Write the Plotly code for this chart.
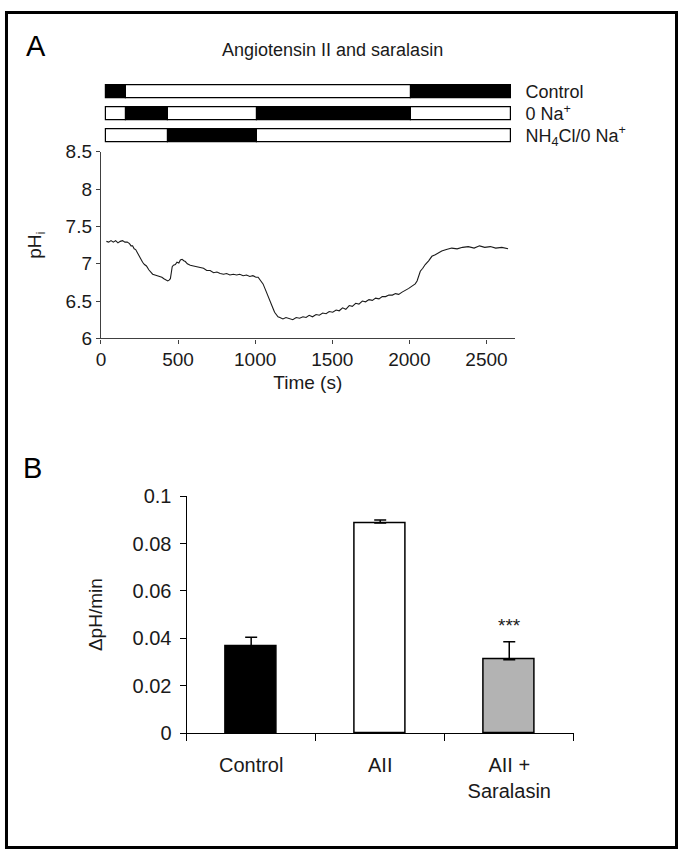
import plotly.graph_objects as go

# ---------------- Panel A data ----------------
time_s = [35, 50, 65, 80, 95, 110, 125, 140, 155, 170, 185, 195, 205, 215, 225, 235, 245, 257,
          270, 282, 295, 310, 322, 335, 350, 365, 380, 395, 408, 420, 433, 442, 450, 456, 462,
          470, 482, 493, 505, 515, 526, 537, 547, 560, 579, 600, 622, 644, 665, 686, 708, 730,
          752, 773, 795, 815, 836, 858, 880, 900, 922, 944, 965, 985, 1005, 1019, 1035, 1051,
          1067, 1083, 1095, 1105, 1116, 1126, 1137, 1148, 1160, 1180, 1200, 1222, 1244, 1266,
          1288, 1310, 1330, 1350, 1372, 1395, 1416, 1438, 1460, 1480, 1503, 1525, 1545, 1567,
          1588, 1610, 1630, 1652, 1673, 1695, 1716, 1738, 1760, 1781, 1803, 1824, 1846, 1867,
          1890, 1910, 1931, 1953, 1975, 1996, 2017, 2038, 2050, 2060, 2071, 2087, 2103, 2125,
          2146, 2168, 2190, 2210, 2240, 2275, 2310, 2345, 2382, 2420, 2455, 2489, 2525, 2560,
          2600, 2640]
ph_i = [7.30, 7.29, 7.31, 7.29, 7.31, 7.28, 7.30, 7.31, 7.29, 7.29, 7.27, 7.24, 7.24, 7.20,
        7.19, 7.15, 7.10, 7.07, 7.02, 6.99, 6.97, 6.92, 6.89, 6.86, 6.85, 6.84, 6.83, 6.82,
        6.80, 6.79, 6.77, 6.78, 6.80, 6.88, 6.96, 6.98, 6.99, 7.02, 7.01, 7.05, 7.06, 7.04,
        7.03, 7.00, 6.98, 6.97, 6.96, 6.94, 6.94, 6.91, 6.91, 6.88, 6.89, 6.87, 6.86, 6.87,
        6.85, 6.86, 6.85, 6.86, 6.84, 6.85, 6.83, 6.84, 6.82, 6.82, 6.78, 6.73, 6.65, 6.56,
        6.50, 6.45, 6.40, 6.35, 6.32, 6.29, 6.28, 6.26, 6.28, 6.26, 6.25, 6.28, 6.27, 6.29,
        6.28, 6.31, 6.29, 6.32, 6.31, 6.34, 6.33, 6.36, 6.35, 6.38, 6.37, 6.41, 6.39, 6.44,
        6.43, 6.47, 6.46, 6.50, 6.49, 6.52, 6.51, 6.54, 6.53, 6.56, 6.56, 6.58, 6.58, 6.60,
        6.59, 6.62, 6.64, 6.67, 6.70, 6.73, 6.77, 6.84, 6.90, 6.94, 6.99, 7.04, 7.10, 7.12,
        7.15, 7.17, 7.19, 7.21, 7.20, 7.22, 7.23, 7.21, 7.24, 7.22, 7.23, 7.21, 7.22, 7.20]
time_ticks = [0, 500, 1000, 1500, 2000, 2500]
ph_ticks = [6, 6.5, 7, 7.5, 8, 8.5]

# protocol bars (black = solution applied)
protocol_rows = ["Control", "0 Na<sup>+</sup>", "NH<sub>4</sub>Cl/0 Na<sup>+</sup>"]
control_edges = [35, 165, 2008, 2660]
control_on = [1, 0, 1]
na_free_edges = [35, 165, 437, 1010, 2008, 2660]
na_free_on = [0, 1, 0, 1, 0]
nh4cl_edges = [35, 437, 1010, 2660]
nh4cl_on = [0, 1, 0]

# ---------------- Panel B data ----------------
categories = ["Control", "AII", "AII +<br>Saralasin"]
rate_values = [0.0368, 0.0887, 0.0310]
rate_errors = [0.0037, 0.0013, 0.0076]
bar_colors = ["#000000", "#ffffff", "#b3b3b3"]
rate_ticks = [0, 0.02, 0.04, 0.06, 0.08, 0.1]
significance = ["", "", "***"]

W, H = 678, 860
FONT = "Liberation Sans, Arial, sans-serif"
TXT = "#1a1a1a"

def fx(px):
    return px / W

def fy(py):
    return (H - py) / H

fig = go.Figure()

# pHi trace
fig.add_trace(go.Scatter(x=time_s, y=ph_i, mode="lines",
                         line=dict(color="#1a1a1a", width=1.1),
                         xaxis="x", yaxis="y", showlegend=False, hoverinfo="skip"))

# protocol bars
all_edges = [control_edges, na_free_edges, nh4cl_edges]
all_on = [control_on, na_free_on, nh4cl_on]
for state, colour in [(1, "#000000"), (0, "#ffffff")]:
    bases, widths, rows = [], [], []
    for r, (edges, on) in enumerate(zip(all_edges, all_on)):
        for i, s in enumerate(on):
            if s == state:
                bases.append(edges[i])
                widths.append(edges[i + 1] - edges[i])
                rows.append(len(all_edges) - 1 - r)
    fig.add_trace(go.Bar(x=widths, base=bases, y=rows, orientation="h", width=0.6,
                         marker=dict(color=colour, line=dict(color="#000000", width=1.2)),
                         xaxis="x3", yaxis="y3", showlegend=False, hoverinfo="skip"))

# Panel B bars
fig.add_trace(go.Bar(x=categories, y=rate_values, width=0.4,
                     marker=dict(color=bar_colors, line=dict(color="#000000", width=1.5)),
                     error_y=dict(type="data", array=rate_errors,
                                  arrayminus=[0] * len(rate_errors), symmetric=False,
                                  color="#000000", thickness=1.5, width=6),
                     xaxis="x2", yaxis="y2", showlegend=False, hoverinfo="skip"))

# significance stars
for c, v, e, s in zip(categories, rate_values, rate_errors, significance):
    if s:
        fig.add_annotation(x=c, y=v + e, xref="x2", yref="y2", text=s, showarrow=False,
                           yanchor="bottom", yshift=4,
                           font=dict(family=FONT, size=19, color=TXT))

axis_common = dict(showgrid=False, zeroline=False, showline=True,
                   tickfont=dict(family=FONT, size=19, color=TXT))

fig.update_layout(
    width=W, height=H, margin=dict(l=0, r=0, t=0, b=0),
    paper_bgcolor="white", plot_bgcolor="rgba(0,0,0,0)",
    barmode="overlay", bargap=0,
    font=dict(family=FONT, color=TXT),
    xaxis=dict(domain=[fx(96.7), fx(513.3)], range=[0, 2682], anchor="y",
               tickvals=time_ticks, ticks="outside", ticklen=4, tickwidth=1.2,
               tickcolor="#404040", linecolor="#404040", linewidth=1.3,
               title=dict(text="Time (s)", standoff=6,
                          font=dict(family=FONT, size=19, color=TXT)),
               **axis_common),
    yaxis=dict(domain=[fy(336), fy(144.5)], range=[6, 8.5], anchor="x",
               tickvals=ph_ticks, ticks="outside", ticklen=4, tickwidth=1.2,
               tickcolor="#404040", linecolor="#404040", linewidth=1.3,
               title=dict(text="pH<sub>i</sub>", standoff=18,
                          font=dict(family=FONT, size=19, color=TXT)),
               **axis_common),
    xaxis3=dict(domain=[fx(96.7), fx(513.3)], range=[0, 2682], anchor="y3",
                visible=False),
    yaxis3=dict(domain=[fy(139), fy(72)], range=[-0.5, 2.5], anchor="x3",
                side="right", tickvals=[2, 1, 0], ticktext=protocol_rows,
                showline=False, showgrid=False, zeroline=False, ticks="",
                ticklabelstandoff=10,
                tickfont=dict(family=FONT, size=18, color=TXT)),
    xaxis2=dict(domain=[fx(183), fx(573)], range=[-0.5, 2.5], anchor="y2",
                ticks="outside", ticklen=7, tickwidth=1.2, tickcolor="#000000",
                tickson="boundaries", linecolor="#000000", linewidth=1.3,
                ticklabelstandoff=14,
                showgrid=False, zeroline=False, showline=True,
                tickfont=dict(family=FONT, size=20, color=TXT)),
    yaxis2=dict(domain=[fy(741), fy(498)], range=[0, 0.1], anchor="x2",
                tickvals=rate_ticks, ticks="outside", ticklen=6, tickwidth=1.2,
                tickcolor="#000000", linecolor="#000000", linewidth=1.3,
                ticklabelstandoff=4,
                title=dict(text="\u0394pH/min", standoff=24,
                           font=dict(family=FONT, size=19, color=TXT)),
                showgrid=False, zeroline=False, showline=True,
                tickfont=dict(family=FONT, size=20, color=TXT)),
)

# panel labels and title
fig.add_annotation(x=fx(31), y=fy(36), xref="paper", yref="paper", text="A",
                   showarrow=False, xanchor="center", yanchor="middle",
                   font=dict(family=FONT, size=29, color="#000000"))
fig.add_annotation(x=fx(28), y=fy(469), xref="paper", yref="paper", text="B",
                   showarrow=False, xanchor="center", yanchor="middle",
                   font=dict(family=FONT, size=29, color="#000000"))
fig.add_annotation(x=fx(330), y=fy(40), xref="paper", yref="paper",
                   text="Angiotensin II and saralasin",
                   showarrow=False, xanchor="center", yanchor="middle",
                   font=dict(family=FONT, size=18, color=TXT))

# outer frame
fig.add_shape(type="rect", xref="paper", yref="paper",
              x0=fx(1.5), x1=fx(676.5), y0=fy(858.5), y1=fy(1.5),
              line=dict(color="#000000", width=3), fillcolor="rgba(0,0,0,0)")

pin_page = ("document.documentElement.style.margin='0';"
            "document.documentElement.style.overflow='hidden';"
            "document.body.style.margin='0';"
            "document.body.style.overflow='hidden';"
            "var d=document.getElementById('{plot_id}');"
            "d.style.position='fixed';d.style.left='0px';d.style.top='0px';")

fig.write_html("out.html", config={"displayModeBar": False}, post_script=pin_page)
